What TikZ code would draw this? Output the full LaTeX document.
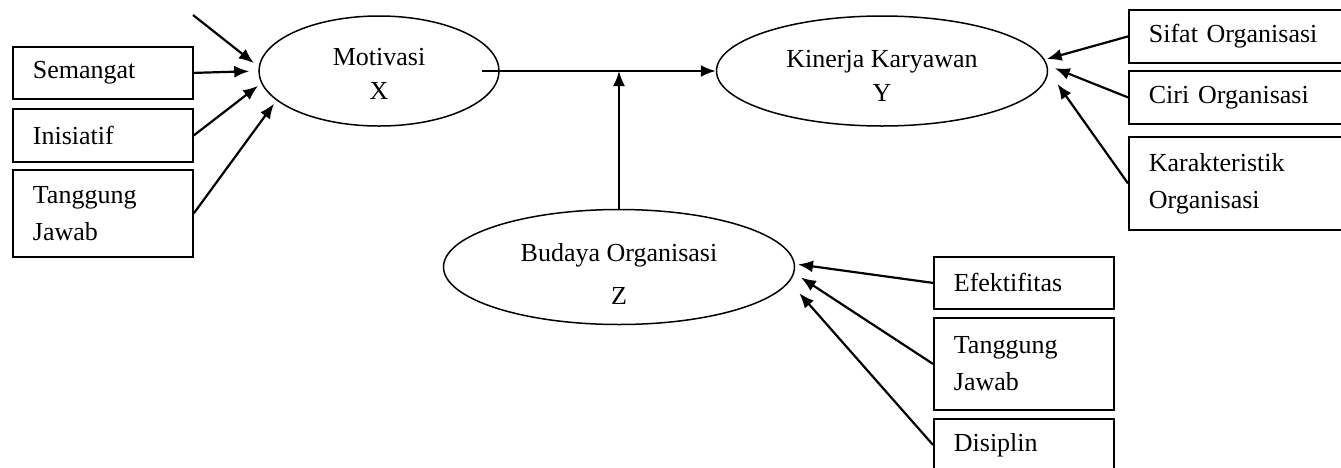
\documentclass[tikz,border=0pt]{standalone}
\usepackage{fontspec}
\setmainfont{Liberation Serif}
\usetikzlibrary{shapes.geometric, arrows.meta}

\begin{document}
\begin{tikzpicture}[x=0.5pt, y=-0.5pt]
	\tikzstyle{box}=[rectangle, draw=black, line width=0.9pt, anchor=north west, inner xsep=10pt, inner ysep=0pt, text width=70pt, align=left, font=\fontsize{13}{18.5}\selectfont]
	\tikzstyle{var}=[ellipse, draw=black, line width=0.75pt, inner sep=0pt, align=center, font=\fontsize{13}{17}\selectfont]
	\tikzstyle{arrow}=[-{Latex[length=7.5pt, width=6pt]}, line width=1.1pt]
	\useasboundingbox (0,0) rectangle (1341,467);
	\clip (0,0) rectangle (1341,467);
	% Variables
	\node at (379,71) [var, minimum width=120pt, minimum height=55pt] (mot) {\rule{0pt}{11.5pt}Motivasi\\X};
	\node at (882,71) [var, minimum width=165.5pt, minimum height=55pt] (kin) {\rule{0pt}{13.5pt}Kinerja Karyawan\\Y};
	\node at (619,267) [var, minimum width=175.5pt, minimum height=57.5pt] (bud) {\rule{0pt}{15.5pt}Budaya Organisasi\\[4.5pt]Z};
	% Indicators X
	\foreach \i/\y/\h/\t in {1/46/26pt/Semangat, 2/108/26.5pt/Inisiatif, 3/169/43.5pt/{Tanggung\\Jawab}}
		\node at (12,\y) [box, minimum height=\h] (x_\i) {\t};
	% Indicators Y
	\foreach \i/\y/\h/\t in {1/9/26.5pt/Sifat Organisasi, 2/70/26.5pt/Ciri Organisasi, 3/136/46.5pt/{Karakteristik\\Organisasi}}
		\node at (1128,\y) [box, text width=110pt, minimum height=\h] (y_\i) {\t};
	% Indicators Z
	\foreach \i/\y/\h/\t in {1/256/26pt/Efektifitas, 2/317/46pt/{Tanggung\\Jawab}, 3/418/26pt/Disiplin}
		\node at (933,\y) [box, minimum height=\h] (z_\i) {\t};
	%---------------------%
	% Indicators -> X
	\coordinate (x_0) at (193,15);
	\draw [arrow, shorten >=3pt] (x_0) to (mot.178);
	\foreach \i/\a/\s in {1/180/4.5pt, 2/186/2pt, 3/196/2pt}
		\draw [arrow, shorten >=\s] (x_\i.east) to (mot.\a);
	% Indicators -> Y
	\foreach \i/\a/\s in {1/4/1pt, 2/2/4pt, 3/0/8pt}
		\draw [arrow, shorten >=\s] (y_\i.west) to (kin.\a);
	% Indicators -> Z
	\foreach \i/\a/\s in {1/1/1.5pt, 2/-2/4pt, 3/-5/7.5pt}
		\draw [arrow, shorten >=\s] (z_\i.west) to (bud.\a);
	%---------------------%
	% X -> Y, Z moderates
	\coordinate (join) at (bud.north |- mot.east);
	\draw [arrow] ([xshift=-9pt]mot.east) -- (kin.west);
	\draw [arrow] (bud.north) -- (join);
\end{tikzpicture}
\end{document}
